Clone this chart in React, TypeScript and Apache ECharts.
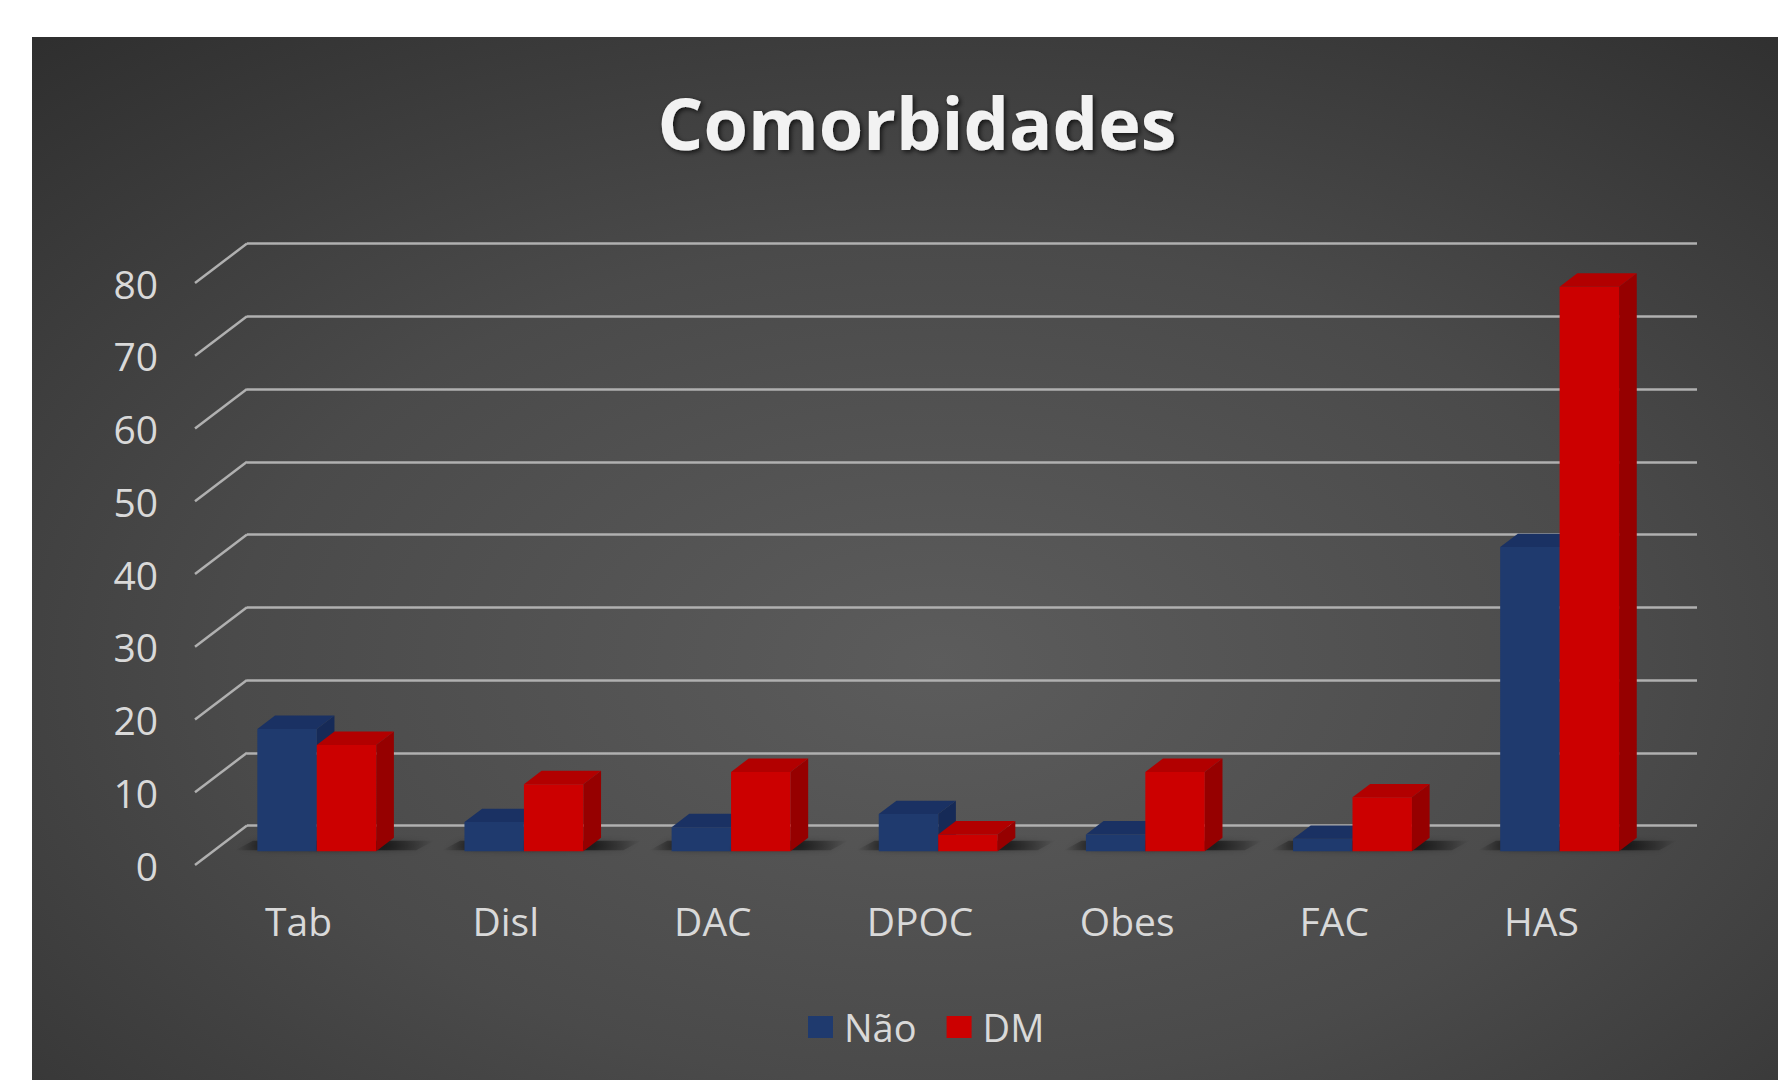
import React, { useEffect, useRef } from "react";
import * as echarts from "echarts";

// Chart data
const categories = ["Tab", "Disl", "DAC", "DPOC", "Obes", "FAC", "HAS"];
const naoValues = [16.8, 4, 3.3, 5.1, 2.3, 1.7, 41.8];
const dmValues = [14.6, 9.2, 10.9, 2.3, 10.9, 7.4, 77.6];
const yTicks = [0, 10, 20, 30, 40, 50, 60, 70, 80];
const seriesNames = ["Não", "DM"];

// Faces of the two column colours: front, top, side
const PALETTE = [
  { front: "#1f3a6e", top: "#1a3163", side: "#162a57" },
  { front: "#cc0000", top: "#b20000", side: "#960000" },
];

// Pseudo-3D geometry: the floor recedes by DEPTH from the front plane to the back wall
const DEPTH = { dx: 52, dy: -39.5 };
const BAR_PLANE = 0.35; // depth of the column front faces
const BAR_DEPTH = 0.34; // thickness of each column
const BAR_RATIO = 0.287; // column width as a share of the category band

const PLOT = { left: 195, top: 283, width: 1450, height: 582 };
const FONT = "'Open Sans', 'Noto Sans', sans-serif";
const LABEL = "#d9d9d9";

function shifted(z: number) {
  return {
    left: PLOT.left + z * DEPTH.dx,
    top: PLOT.top + z * DEPTH.dy,
    width: PLOT.width,
    height: PLOT.height,
  };
}

// soft floor shadow, darkest at the column base and fading outwards
function shadowFill(side: number) {
  const stops =
    side === 0
      ? [
          { offset: 0, color: "rgba(0,0,0,0)" },
          { offset: 0.35, color: "rgba(0,0,0,0.55)" },
          { offset: 1, color: "rgba(0,0,0,0.75)" },
        ]
      : [
          { offset: 0, color: "rgba(0,0,0,0.75)" },
          { offset: 0.6, color: "rgba(0,0,0,0.5)" },
          { offset: 1, color: "rgba(0,0,0,0)" },
        ];
  return new echarts.graphic.LinearGradient(0, 0, 1, 0, stops);
}

function barRenderer(side: number) {
  const pal = PALETTE[side];
  const fill = shadowFill(side);
  return (params: any, api: any) => {
    const cat = api.value(0);
    const v = api.value(1);
    const base = api.coord([cat, 0]);
    const top = api.coord([cat, v]);
    const band = api.size([1, 0])[0];
    const w = band * BAR_RATIO;
    const x0 = side === 0 ? base[0] - w : base[0];
    const x1 = x0 + w;
    const yT = top[1];
    const yB = base[1];
    const dx = BAR_DEPTH * DEPTH.dx;
    const dy = BAR_DEPTH * DEPTH.dy;
    const extL = side === 0 ? 22 : 0;
    const extR = side === 1 ? 40 : 0;
    return {
      type: "group",
      children: [
        {
          type: "polygon",
          shape: {
            points: [
              [x0 - extL, yB - 1],
              [x1 + extR, yB - 1],
              [x1 + extR + dx, yB + dy + 3],
              [x0 - extL + dx, yB + dy + 3],
            ],
          },
          style: {
            fill,
            shadowBlur: 6,
            shadowColor: "rgba(0,0,0,0.6)",
          },
        },
        {
          type: "polygon",
          shape: {
            points: [
              [x1, yT],
              [x1 + dx, yT + dy],
              [x1 + dx, yB + dy],
              [x1, yB],
            ],
          },
          style: { fill: pal.side },
        },
        {
          type: "polygon",
          shape: {
            points: [
              [x0, yT],
              [x1, yT],
              [x1 + dx, yT + dy],
              [x0 + dx, yT + dy],
            ],
          },
          style: { fill: pal.top },
        },
        {
          type: "rect",
          shape: { x: x0, y: yT, width: w, height: yB - yT },
          style: { fill: pal.front },
        },
      ],
    };
  };
}

export default function App() {
  const ref = useRef<HTMLDivElement>(null);

  useEffect(() => {
    if (!ref.current) return;
    const chart = echarts.init(ref.current, undefined, { renderer: "svg" });

    const front = shifted(0);
    const bars = shifted(BAR_PLANE);
    const back = shifted(1);

    const valueAxis = (index: number, extra: any) => ({
      type: "value",
      gridIndex: index,
      min: 0,
      max: 80,
      interval: 10,
      axisLine: { show: false },
      axisTick: { show: false },
      splitLine: { show: false },
      axisLabel: { show: false },
      ...extra,
    });
    const catAxis = (index: number, extra: any) => ({
      type: "category",
      gridIndex: index,
      data: categories,
      axisLine: { show: false },
      axisTick: { show: false },
      splitLine: { show: false },
      axisLabel: { show: false },
      ...extra,
    });

    chart.setOption({
      animation: false,
      backgroundColor: "#ffffff",
      title: {
        text: "Comorbidades",
        left: 917,
        top: 86,
        textAlign: "center",
        padding: 0,
        textStyle: {
          fontFamily: FONT,
          fontSize: 72,
          fontWeight: "bold",
          color: "#f2f2f2",
          textShadowColor: "rgba(0,0,0,0.7)",
          textShadowBlur: 5,
          textShadowOffsetX: 2,
          textShadowOffsetY: 2,
        },
      },
      graphic: [
        {
          type: "rect",
          z: -100,
          silent: true,
          shape: { x: 32, y: 37, width: 1746, height: 1043 },
          style: {
            fill: new echarts.graphic.RadialGradient(0.52, 0.6, 0.9, [
              { offset: 0, color: "#5c5c5c" },
              { offset: 0.45, color: "#4a4a4a" },
              { offset: 1, color: "#272727" },
            ]),
          },
        },
      ],
      legend: {
        data: seriesNames.map((name, i) => ({
          name,
          icon: "rect",
          itemStyle: { color: PALETTE[i].front },
        })),
        left: 808,
        top: 1008,
        padding: 0,
        itemWidth: 25,
        itemHeight: 22,
        itemGap: 30,
        textStyle: { fontFamily: FONT, fontSize: 38, color: LABEL, padding: [0, 0, 0, 6] },
      },
      grid: [
        { ...front, containLabel: false },
        { ...bars, containLabel: false },
        { ...back, containLabel: false },
      ],
      xAxis: [
        catAxis(0, {
          axisLabel: {
            show: true,
            margin: 36,
            fontFamily: FONT,
            fontSize: 39,
            color: LABEL,
          },
        }),
        catAxis(1, {}),
        catAxis(2, {}),
      ],
      yAxis: [
        valueAxis(0, {
          axisLabel: {
            show: true,
            margin: 37,
            fontFamily: FONT,
            fontSize: 39,
            color: LABEL,
          },
        }),
        valueAxis(1, {}),
        valueAxis(2, {
          splitLine: { show: true, lineStyle: { color: "#b0b0b0", width: 2.5 } },
        }),
      ],
      series: [
        {
          // diagonal gridline runners from the front labels to the back wall
          type: "custom",
          name: "walls",
          xAxisIndex: 2,
          yAxisIndex: 2,
          clip: false,
          silent: true,
          z: 1,
          data: yTicks.map((v) => [0, v]),
          renderItem: (params: any, api: any) => {
            const y = api.coord([0, api.value(1)])[1];
            const x = params.coordSys.x;
            return {
              type: "line",
              shape: { x1: x - DEPTH.dx, y1: y - DEPTH.dy, x2: x, y2: y },
              style: { stroke: "#b0b0b0", lineWidth: 2.5 },
            };
          },
        },
        {
          type: "custom",
          name: seriesNames[0],
          xAxisIndex: 1,
          yAxisIndex: 1,
          clip: false,
          z: 3,
          itemStyle: { color: PALETTE[0].front },
          data: naoValues.map((v, i) => [i, v]),
          renderItem: barRenderer(0),
        },
        {
          type: "custom",
          name: seriesNames[1],
          xAxisIndex: 1,
          yAxisIndex: 1,
          clip: false,
          z: 4,
          itemStyle: { color: PALETTE[1].front },
          data: dmValues.map((v, i) => [i, v]),
          renderItem: barRenderer(1),
        },
      ],
    });

    return () => chart.dispose();
  }, []);

  return (
    <div
      ref={ref}
      style={{ position: "absolute", left: 0, top: 0, width: 1778, height: 1080 }}
    />
  );
}
